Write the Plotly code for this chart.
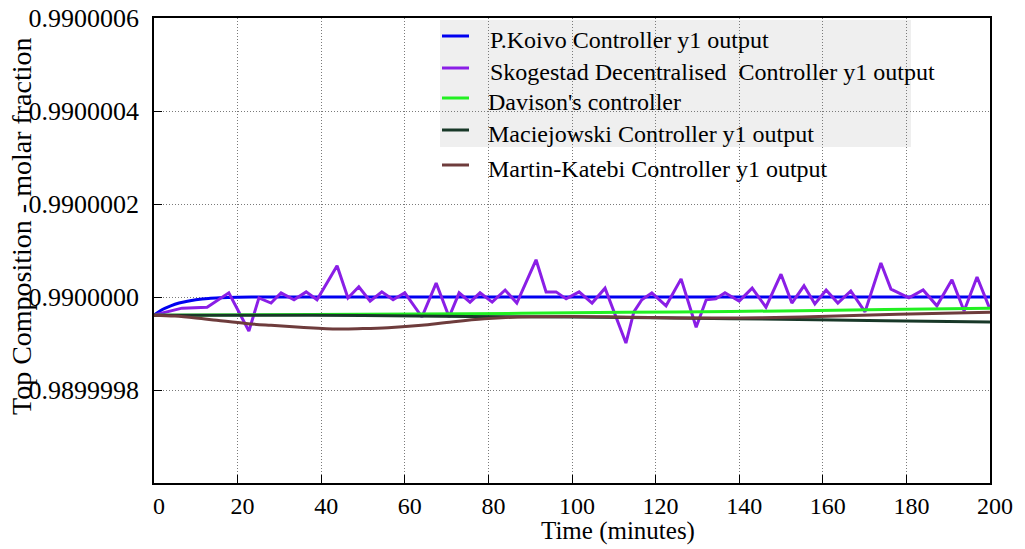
import plotly.graph_objects as go

# Top composition (molar fraction) of five multivariable controllers over time (minutes)

koivo_t = [0, 2, 4, 6, 8, 10, 13, 16, 20, 25, 30, 50, 100, 150, 200]
koivo_y = [0.989999961, 0.989999973, 0.989999981, 0.989999987, 0.989999991,
           0.989999994, 0.989999997, 0.9899999985, 0.9899999995, 0.990000000,
           0.990000000, 0.990000000, 0.990000000, 0.990000000, 0.990000000]

skog_t = [0, 6.7, 12.7, 17.9, 22.7, 25.1, 28.0, 30.4, 33.5, 36.4, 39.0, 43.8, 46.4,
          49.0, 51.7, 54.5, 57.2, 60.0, 64.1, 67.5, 70.6, 73.0, 75.6, 78.0, 80.9,
          84.0, 86.8, 91.4, 93.8, 96.2, 98.6, 101.7, 104.8, 107.9, 112.9, 114.8,
          116.7, 119.1, 122.5, 126.1, 129.7, 132.1, 134.4, 136.6, 140.0, 143.1,
          146.4, 150.0, 152.6, 155.5, 158.1, 160.8, 163.6, 166.7, 170.1, 173.9,
          176.3, 178.2, 180.6, 184.0, 187.3, 190.9, 193.8, 196.9, 199.8]
skog_y = [0.989999961, 0.989999976, 0.989999978, 0.990000009, 0.989999927,
          0.989999998, 0.989999987, 0.990000009, 0.989999994, 0.990000011,
          0.989999994, 0.990000067, 0.989999998, 0.990000022, 0.989999991,
          0.990000011, 0.989999994, 0.990000009, 0.989999957, 0.990000030,
          0.989999957, 0.990000009, 0.989999989, 0.990000009, 0.989999989,
          0.990000015, 0.989999987, 0.990000080, 0.990000011, 0.990000011,
          0.989999996, 0.990000011, 0.989999987, 0.990000019, 0.989999901,
          0.989999968, 0.989999994, 0.990000009, 0.989999981, 0.990000039,
          0.989999935, 0.989999994, 0.989999996, 0.990000009, 0.989999991,
          0.990000019, 0.989999978, 0.990000049, 0.989999987, 0.990000024,
          0.989999985, 0.990000015, 0.989999987, 0.990000013, 0.989999968,
          0.990000073, 0.990000017, 0.990000009, 0.989999998, 0.990000015,
          0.989999981, 0.990000037, 0.989999970, 0.990000043, 0.989999978]

davison_t = [0, 25, 50, 75, 100, 125, 150, 175, 200]
davison_y = [0.989999961, 0.989999962, 0.989999963, 0.989999964, 0.989999966,
             0.989999968, 0.989999970, 0.989999973, 0.989999976]

macie_t = [0, 25, 50, 75, 100, 125, 150, 175, 200]
macie_y = [0.989999961, 0.989999961, 0.989999960, 0.989999958, 0.989999957,
           0.989999955, 0.989999952, 0.989999949, 0.989999946]

martin_t = [0, 5, 10, 15, 22, 28, 35, 44, 50, 56, 64, 70, 79, 87, 100, 111,
            125, 140, 155, 178, 200]
martin_y = [0.989999961, 0.989999959, 0.989999955, 0.989999950, 0.989999943,
            0.989999939, 0.989999935, 0.989999931, 0.989999932, 0.989999934,
            0.989999939, 0.989999945, 0.989999953, 0.989999957, 0.989999958,
            0.989999957, 0.989999955, 0.989999955, 0.989999957, 0.989999963,
            0.989999967]

y_ticks = [0.9899998, 0.9900000, 0.9900002, 0.9900004, 0.9900006]
x_ticks = [0, 20, 40, 60, 80, 100, 120, 140, 160, 180, 200]

series = [
    ("P.Koivo Controller y1 output", koivo_t, koivo_y, "#0000f0", "spline"),
    ("Skogestad Decentralised  Controller y1 output", skog_t, skog_y, "#8a1ee6", "linear"),
    ("Davison's controller", davison_t, davison_y, "#22f022", "spline"),
    ("Maciejowski Controller y1 output", macie_t, macie_y, "#183828", "spline"),
    ("Martin-Katebi Controller y1 output", martin_t, martin_y, "#6e3c3c", "spline"),
]

FONT = "Liberation Serif"
W, H = 1025, 549
L, R, T, B = 154, 35, 18, 66
PW, PH = W - L - R, H - T - B


def px_x(px):
    return (px - L) / PW


def px_y(py):
    return (H - B - py) / PH


fig = go.Figure()
for name, t, y, color, shape in series:
    fig.add_trace(go.Scatter(
        x=t, y=y, name=name, mode="lines", showlegend=False,
        line=dict(color=color, width=3, shape=shape),
    ))

axis_common = dict(
    showline=True, linecolor="black", linewidth=1.5, mirror=True,
    ticks="inside", ticklen=8, tickcolor="black", tickwidth=1,
    showgrid=True, gridcolor="#7a7a7a", gridwidth=1, griddash="1px,2px",
    zeroline=False, automargin=False,
)

fig.update_xaxes(range=[0, 200], tickvals=x_ticks, ticklabelshift=5,
                 tickfont=dict(family=FONT, size=24, color="black"), **axis_common)
fig.update_yaxes(range=[0.9899996, 0.9900006], tickvals=y_ticks, tickformat=".7f",
                 ticklabelstandoff=8,
                 tickfont=dict(family=FONT, size=26, color="black"), **axis_common)

# grey panel behind the first four legend entries
fig.add_shape(type="rect", xref="paper", yref="paper",
              x0=px_x(440), x1=px_x(911), y0=px_y(147), y1=px_y(20),
              fillcolor="#efefef", line=dict(width=0), layer="between")

# legend: sample line plus label for each controller
key_line_y = [36, 68, 98, 130, 165]
key_text_x = [488, 488, 486, 486, 486]
for (name, _, _, color, _), ly, tx in zip(series, key_line_y, key_text_x):
    fig.add_shape(type="line", xref="paper", yref="paper",
                  x0=px_x(442), x1=px_x(469), y0=px_y(ly), y1=px_y(ly),
                  line=dict(color=color, width=3), layer="above")
    fig.add_annotation(text=name.replace("  ", "\u00a0 "), xref="paper", yref="paper",
                       x=px_x(tx), y=px_y(ly + 4), xanchor="left", yanchor="middle",
                       showarrow=False, font=dict(family=FONT, size=24, color="black"))

fig.add_annotation(text="Time (minutes)", xref="paper", yref="paper",
                   x=px_x(618), y=px_y(531), yanchor="middle", xanchor="center",
                   showarrow=False, font=dict(family=FONT, size=25, color="black"))
fig.add_annotation(text="Top Composition - molar fraction", xref="paper", yref="paper",
                   x=px_x(22), y=px_y(226), textangle=-90,
                   xanchor="center", yanchor="middle", showarrow=False,
                   font=dict(family=FONT, size=28, color="black"))

fig.update_layout(
    width=W, height=H,
    margin=dict(l=L, r=R, t=T, b=B),
    paper_bgcolor="white", plot_bgcolor="white",
    font=dict(family=FONT, size=24, color="black"),
    showlegend=False,
)

fig.write_html("out.html")
